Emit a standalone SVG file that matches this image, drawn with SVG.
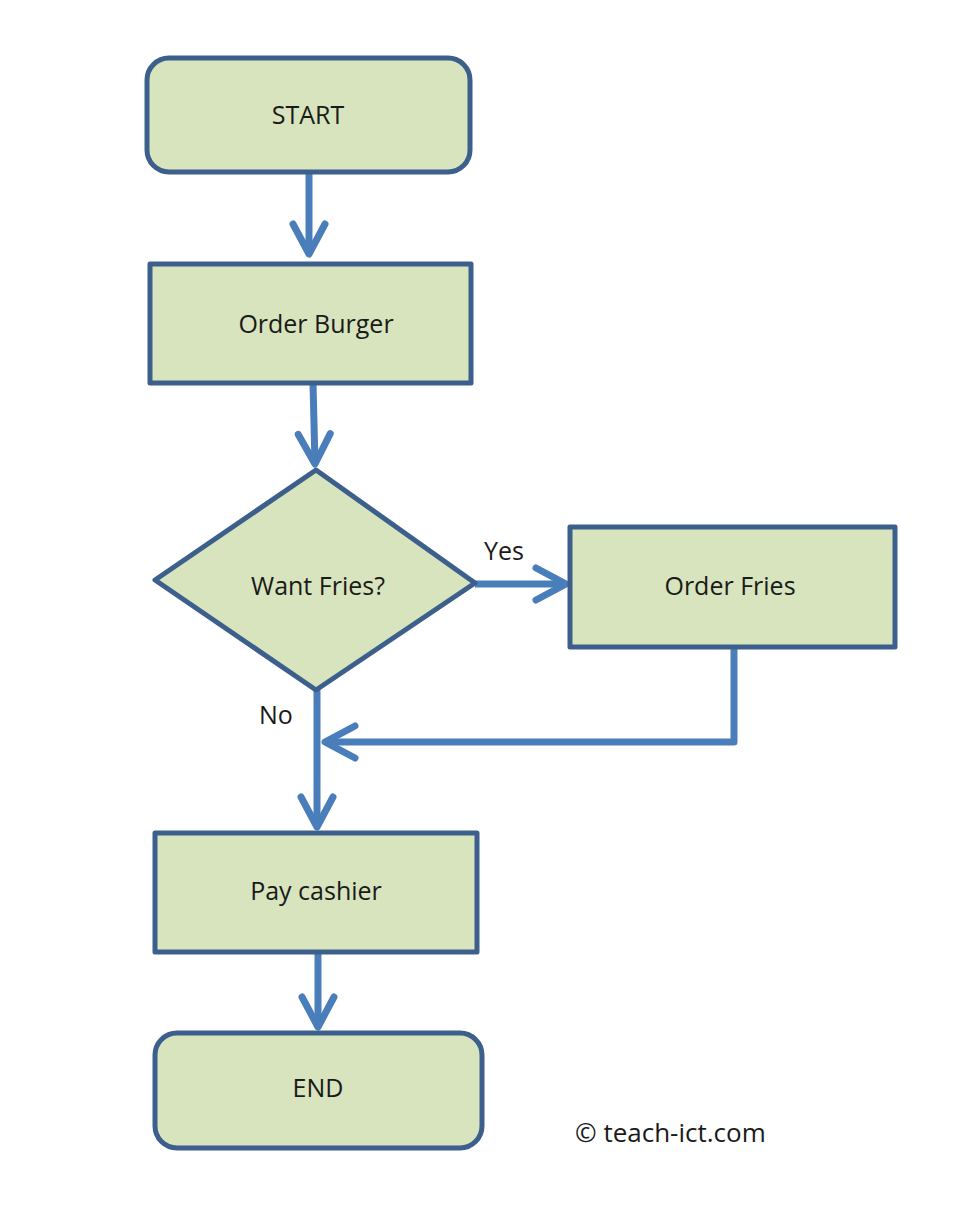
<svg xmlns="http://www.w3.org/2000/svg" width="974" height="1222" viewBox="0 0 974 1222">
<style>
.box{fill:#D7E4BD;stroke:#3C5F8C;stroke-width:5;stroke-linejoin:round}
.lbl{font-family:"Open Sans","Liberation Sans",sans-serif;font-size:25px;fill:#1a1a1a;text-anchor:middle}
.side{font-family:"Open Sans","Liberation Sans",sans-serif;font-size:25px;fill:#1a1a1a}
.con{fill:none;stroke:#4A7EBB;stroke-width:7;stroke-linejoin:round}
</style>
<defs>
<marker id="arr" markerUnits="userSpaceOnUse" viewBox="0 0 44 44" markerWidth="44" markerHeight="44" refX="36" refY="22" orient="auto" overflow="visible">
<path d="M6 6 L36 22 L6 38" fill="none" stroke="#4A7EBB" stroke-width="7" stroke-linecap="round" stroke-linejoin="round"/>
</marker>
</defs>
<rect width="974" height="1222" fill="#ffffff"/>
<g id="connectors">
<path class="con" d="M309 172 L309 254" marker-end="url(#arr)"/>
<path class="con" d="M313 383 L315 464" marker-end="url(#arr)"/>
<path class="con" d="M475 584 L566 584" marker-end="url(#arr)"/>
<path class="con" d="M734 647 L734 742 L325 742" marker-end="url(#arr)"/>
<path class="con" d="M317 690 L317 827" marker-end="url(#arr)"/>
<path class="con" d="M318 953 L318 1027" marker-end="url(#arr)"/>
<text class="side" x="484" y="560">Yes</text>
<text class="side" x="259" y="724">No</text>
</g>
<g id="start">
<rect class="box" x="147" y="58" width="323" height="114" rx="22"/>
<text class="lbl" x="308" y="124">START</text>
</g>
<g id="order-burger">
<rect class="box" x="150" y="264" width="321" height="119"/>
<text class="lbl" x="316" y="333">Order Burger</text>
</g>
<g id="want-fries">
<polygon class="box" points="316,470 475,583 316,690 155,580"/>
<text class="lbl" x="318" y="595">Want Fries?</text>
</g>
<g id="order-fries">
<rect class="box" x="570" y="527" width="325" height="120"/>
<text class="lbl" x="730" y="595">Order Fries</text>
</g>
<g id="pay-cashier">
<rect class="box" x="155" y="833" width="322" height="119"/>
<text class="lbl" x="316" y="900">Pay cashier</text>
</g>
<g id="end">
<rect class="box" x="155" y="1033" width="327" height="115" rx="22"/>
<text class="lbl" x="318" y="1097">END</text>
</g>
<text class="side" x="575" y="1142" style="font-size:26px">© teach-ict.com</text>
</svg>
